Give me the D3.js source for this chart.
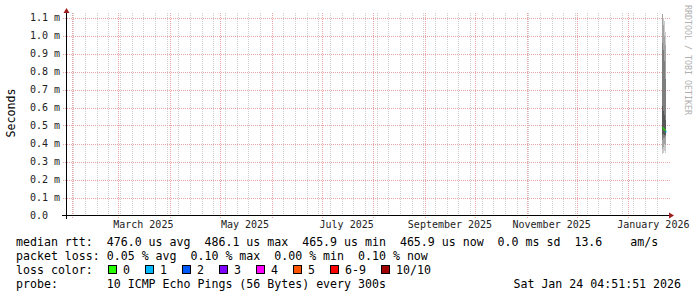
<!DOCTYPE html>
<html>
<head>
<meta charset="utf-8">
<script src="https://cdn.jsdelivr.net/npm/d3@7"></script>
<style>
body { margin: 0; background: #fff; }
svg text { font-family: "DejaVu Sans Mono", monospace; white-space: pre; }
</style>
</head>
<body>
<div id="chart"></div>
<script>
const width = 697, height = 297;

// time span of the graph (last 360 days)
const endTime = new Date("2026-01-24T04:51:51Z");
const startTime = new Date("2025-01-29T04:51:51Z");

// y axis ticks (ms) and their labels
const yTicks = [0, 0.1, 0.2, 0.3, 0.4, 0.5, 0.6, 0.7, 0.8, 0.9, 1.0, 1.1];
const yTickLabels = ["0.0", "0.1 m", "0.2 m", "0.3 m", "0.4 m", "0.5 m", "0.6 m", "0.7 m", "0.8 m", "0.9 m", "1.0 m", "1.1 m"];

// x labels (centred mid-month)
const xLabelTimes = ["2025-03-16", "2025-05-16", "2025-07-16", "2025-09-16", "2025-11-16", "2026-01-16"];
const xLabels = ["March 2025", "May 2025", "July 2025", "September 2025", "November 2025", "January 2026"];

// samples: start time, 10 sorted pings (ms), median (ms), lost pings
const sampleTimes = ["2026-01-21T12:00:00Z", "2026-01-22T02:24:00Z", "2026-01-22T16:48:00Z", "2026-01-23T07:12:00Z"];
const samplePings = [
  [0.34, 0.37, 0.42, 0.45, 0.481, 0.491, 0.61, 0.96, 1.117, 1.117],
  [0.35, 0.38, 0.43, 0.455, 0.474, 0.482, 0.58, 0.92, 1.06, 1.10],
  [0.36, 0.40, 0.43, 0.45, 0.470, 0.478, 0.56, 0.86, 1.00, 1.08],
  [0.35, 0.39, 0.44, 0.45, 0.464, 0.468, 0.53, 0.76, 0.95, 1.02]
];
const sampleMedian = [0.4861, 0.4780, 0.4740, 0.4659];
const sampleLoss = [0, 0, 0, 1];

// loss legend
const lossLabels = ["0", "1", "2", "3", "4", "5", "6-9", "10/10"];
const lossColors = ["#26ff00", "#00b8ff", "#0059ff", "#7e00ff", "#ff00ff", "#ff5500", "#ff0000", "#a10000"];

const legendRows = [
  "median rtt:  476.0 us avg  486.1 us max  465.9 us min  465.9 us now  0.0 ms sd  13.6    am/s",
  "packet loss: 0.05 % avg  0.10 % max  0.00 % min  0.10 % now",
  "loss color:",
  "probe:       10 ICMP Echo Pings (56 Bytes) every 300s"
];
const dateStamp = "Sat Jan 24 04:51:51 2026";

const svg = d3.select("#chart").append("svg")
  .attr("width", width).attr("height", height);

const x = d3.scaleUtc().domain([startTime, endTime]).range([67, 667]);
const y = d3.scaleLinear().domain([0, 1.1]).range([215.5, 17.5]);

const px = v => Math.round(v) + 0.5;

// minor grid: weeks
svg.append("g").selectAll("line")
  .data(d3.utcSunday.range(startTime, endTime))
  .enter().append("line")
  .attr("x1", d => px(x(d))).attr("x2", d => px(x(d)))
  .attr("y1", 13).attr("y2", 215)
  .attr("stroke", "#cfcfcf")
  .attr("stroke-dasharray", "1,1")
  .attr("shape-rendering", "crispEdges");

// major grid: months
svg.append("g").selectAll("line")
  .data(d3.utcMonth.range(startTime, endTime))
  .enter().append("line")
  .attr("x1", d => px(x(d))).attr("x2", d => px(x(d)))
  .attr("y1", 13).attr("y2", 219)
  .attr("stroke", "#e8a4a4")
  .attr("stroke-dasharray", "1,1")
  .attr("shape-rendering", "crispEdges");

// horizontal grid
svg.append("g").selectAll("line")
  .data(yTicks.slice(1))
  .enter().append("line")
  .attr("x1", 63).attr("x2", 670)
  .attr("y1", d => px(y(d))).attr("y2", d => px(y(d)))
  .attr("stroke", "#e8a4a4")
  .attr("stroke-dasharray", "1,1")
  .attr("shape-rendering", "crispEdges");

// y labels
svg.append("g").selectAll("text")
  .data(yTicks)
  .enter().append("text")
  .attr("x", 30)
  .attr("y", d => y(d))
  .attr("dy", "0.36em")
  .attr("font-size", "10px")
  .attr("fill", "#222")
  .text((d, i) => yTickLabels[i]);

// x labels
svg.append("g").selectAll("text")
  .data(xLabelTimes)
  .enter().append("text")
  .attr("x", d => x(new Date(d + "T00:00:00Z")))
  .attr("y", 228)
  .attr("text-anchor", "middle")
  .attr("font-size", "10px")
  .attr("fill", "#222")
  .text((d, i) => xLabels[i]);

// smoke
const smokeG = svg.append("g").attr("shape-rendering", "crispEdges");
const half = 5;
sampleTimes.forEach((t, k) => {
  const t0 = new Date(t);
  const t1 = k < sampleTimes.length - 1 ? new Date(sampleTimes[k + 1])
    : new Date(+t0 + (t0 - new Date(sampleTimes[k - 1])));
  const p = samplePings[k];
  for (let i = 1; i <= half; i++) {
    const c = Math.floor(190 / half * (half - i)) + 50;
    const lo = p[i - 1], hi = p[10 - i];
    smokeG.append("rect")
      .attr("x", x(t0))
      .attr("width", x(t1) - x(t0))
      .attr("y", y(hi))
      .attr("height", y(lo) - y(hi))
      .attr("fill", d3.rgb(c, c, c));
  }
});

// median, coloured by loss
sampleTimes.forEach((t, k) => {
  const t0 = new Date(t);
  const t1 = k < sampleTimes.length - 1 ? new Date(sampleTimes[k + 1])
    : new Date(+t0 + (t0 - new Date(sampleTimes[k - 1])));
  svg.append("rect")
    .attr("x", x(t0))
    .attr("width", x(t1) - x(t0))
    .attr("y", y(sampleMedian[k]) - 1)
    .attr("height", 2)
    .attr("fill", lossColors[sampleLoss[k]]);
});

// axes
const axisG = svg.append("g").attr("shape-rendering", "crispEdges");
axisG.append("line")
  .attr("x1", 62).attr("x2", 670).attr("y1", 215.5).attr("y2", 215.5)
  .attr("stroke", "#000");
axisG.append("line")
  .attr("x1", 66.5).attr("x2", 66.5).attr("y1", 219).attr("y2", 12)
  .attr("stroke", "#000");
svg.append("path")
  .attr("d", "M669,212.5 L674,215.5 L669,218.5 Z")
  .attr("fill", "#a01c1c");
svg.append("path")
  .attr("d", "M63.5,13 L66.5,8 L69.5,13 Z")
  .attr("fill", "#a01c1c");

// y title
svg.append("text")
  .attr("transform", "translate(15,113) rotate(-90)")
  .attr("text-anchor", "middle")
  .attr("font-size", "11.6px")
  .attr("fill", "#000")
  .text("Seconds");

// watermark
svg.append("text")
  .attr("transform", "translate(684.5,5) rotate(90)")
  .attr("font-size", "8.3px")
  .attr("fill", "#b0b0b0")
  .text("RRDTOOL / TOBI OETIKER");

// legend
const legendG = svg.append("g").attr("font-size", "11.6px").attr("fill", "#000");
legendRows.forEach((row, i) => {
  legendG.append("text")
    .attr("x", 16)
    .attr("y", 245.5 + i * 14)
    .text(row);
});
legendG.append("text")
  .attr("x", 681)
  .attr("y", 245.5 + 3 * 14)
  .attr("text-anchor", "end")
  .text(dateStamp);

let bx = 108;
lossLabels.forEach((lab, i) => {
  legendG.append("rect")
    .attr("x", bx + 0.5).attr("y", 265.5)
    .attr("width", 8).attr("height", 8)
    .attr("fill", lossColors[i])
    .attr("stroke", "#000")
    .attr("shape-rendering", "crispEdges");
  legendG.append("text")
    .attr("x", bx + 15)
    .attr("y", 245.5 + 2 * 14)
    .text(lab);
  bx += 15 + lab.length * 7 + 15;
});
</script>
</body>
</html>
